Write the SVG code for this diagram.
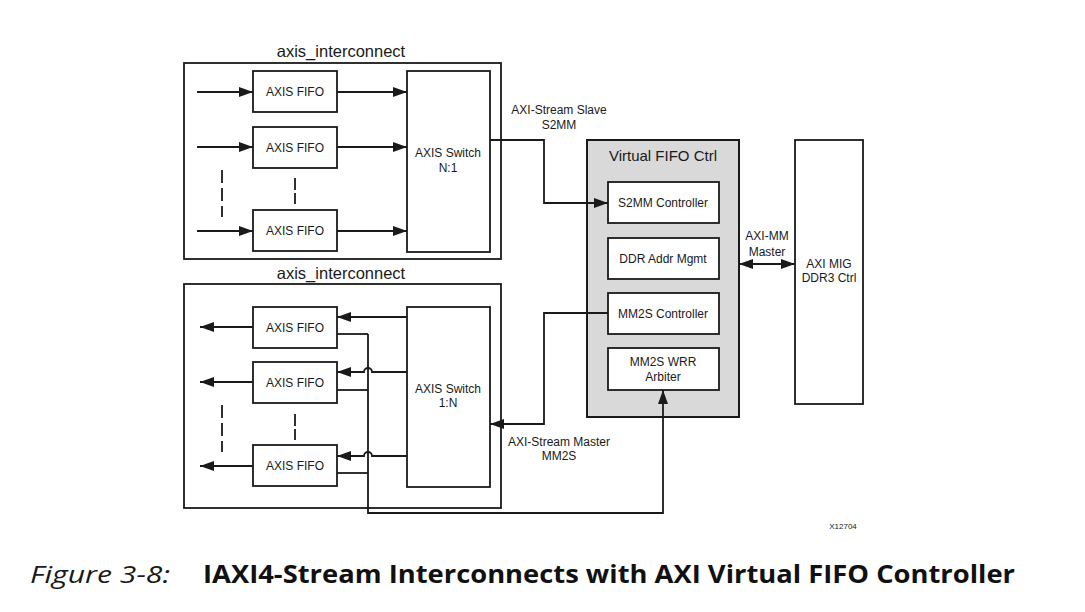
<svg xmlns="http://www.w3.org/2000/svg" width="1085" height="612" viewBox="0 0 1085 612">
<defs>
<marker id="arr" markerUnits="userSpaceOnUse" markerWidth="16" markerHeight="12" refX="14" refY="5" orient="auto-start-reverse">
<path d="M0,0 L14,5 L0,10 z" fill="#1a1a1a"/>
</marker>
</defs>
<style>
.box{fill:#fff;stroke:#1a1a1a;stroke-width:1.8}
.gray{fill:#d9d9d9;stroke:#1a1a1a;stroke-width:2}
.ln{fill:none;stroke:#1a1a1a;stroke-width:1.8}
.ar{fill:none;stroke:#1a1a1a;stroke-width:1.8;marker-end:url(#arr)}
.dash{fill:none;stroke:#1a1a1a;stroke-width:1.8}
.t{font-family:"Liberation Sans",Arial,sans-serif;font-size:12px;fill:#1a1a1a;text-anchor:middle}
.big{font-family:"Liberation Sans",Arial,sans-serif;font-size:16.5px;fill:#1a1a1a;text-anchor:middle}
</style>
<rect width="1085" height="612" fill="#fff"/>

<g id="top_interconnect">
<rect class="box" x="184" y="63" width="317" height="196"/>
<text class="big" x="341" y="57">axis_interconnect</text>
</g>
<g id="top_fifo1"><rect class="box" x="253" y="71" width="84" height="41"/><text class="t" x="295" y="96">AXIS FIFO</text></g>
<g id="top_fifo2"><rect class="box" x="253" y="127" width="84" height="41"/><text class="t" x="295" y="152">AXIS FIFO</text></g>
<g id="top_fifo3"><rect class="box" x="253" y="210" width="84" height="41"/><text class="t" x="295" y="235">AXIS FIFO</text></g>
<g id="top_switch"><rect class="box" x="407" y="71" width="83" height="181"/><text class="t" x="448" y="157">AXIS Switch</text><text class="t" x="448" y="172">N:1</text></g>

<g id="bot_interconnect">
<rect class="box" x="184" y="284" width="317" height="224"/>
<text class="big" x="341" y="279">axis_interconnect</text>
</g>
<g id="bot_fifo1"><rect class="box" x="253" y="307" width="84" height="41"/><text class="t" x="295" y="332">AXIS FIFO</text></g>
<g id="bot_fifo2"><rect class="box" x="253" y="362" width="84" height="41"/><text class="t" x="295" y="387">AXIS FIFO</text></g>
<g id="bot_fifo3"><rect class="box" x="253" y="445" width="84" height="41"/><text class="t" x="295" y="470">AXIS FIFO</text></g>
<g id="bot_switch"><rect class="box" x="407" y="307" width="83" height="180"/><text class="t" x="448" y="393">AXIS Switch</text><text class="t" x="448" y="407">1:N</text></g>

<g id="vfifo">
<rect class="gray" x="587" y="140" width="152" height="277"/>
<text class="t" x="663" y="161" style="font-size:15px">Virtual FIFO Ctrl</text>
</g>
<g id="s2mm_ctrl"><rect class="box" x="608" y="182" width="111" height="41"/><text class="t" x="663" y="207">S2MM Controller</text></g>
<g id="ddr_addr"><rect class="box" x="608" y="238" width="111" height="41"/><text class="t" x="663" y="263">DDR Addr Mgmt</text></g>
<g id="mm2s_ctrl"><rect class="box" x="608" y="293" width="111" height="41"/><text class="t" x="663" y="318">MM2S Controller</text></g>
<g id="mm2s_arb"><rect class="box" x="608" y="348" width="111" height="42"/><text class="t" x="663" y="366">MM2S WRR</text><text class="t" x="663" y="381">Arbiter</text></g>

<g id="axi_mig"><rect class="box" x="795" y="140" width="68" height="264"/><text class="t" x="829" y="268">AXI MIG</text><text class="t" x="829" y="282">DDR3 Ctrl</text></g>

<g id="connectors">
<line class="ar" x1="197" y1="92" x2="253" y2="92"/>
<line class="ar" x1="197" y1="147" x2="253" y2="147"/>
<line class="ar" x1="197" y1="231" x2="253" y2="231"/>
<line class="ar" x1="337" y1="92" x2="407" y2="92"/>
<line class="ar" x1="337" y1="147" x2="407" y2="147"/>
<line class="ar" x1="337" y1="231" x2="407" y2="231"/>
<line class="dash" x1="222" y1="170" x2="222" y2="217" stroke-dasharray="13,5"/>
<line class="dash" x1="295" y1="178" x2="295" y2="204" stroke-dasharray="12,3"/>
<path class="ar" d="M490,140 H544 V203 H608"/>
<text class="t" x="559" y="114">AXI-Stream Slave</text>
<text class="t" x="559" y="129">S2MM</text>
<line class="ln" x1="739" y1="264" x2="795" y2="264" style="marker-start:url(#arr);marker-end:url(#arr)"/>
<text class="t" x="767" y="240">AXI-MM</text>
<text class="t" x="767" y="256">Master</text>
<path class="ar" d="M608,313 H544 V424 H490"/>
<text class="t" x="559" y="446">AXI-Stream Master</text>
<text class="t" x="559" y="460">MM2S</text>
<line class="ar" x1="407" y1="317" x2="337" y2="317"/>
<path class="ar" d="M407,372 H372 A4,4 0 0 0 364,372 H337"/>
<path class="ar" d="M407,456 H372 A4,4 0 0 0 364,456 H337"/>
<line class="ar" x1="253" y1="327" x2="200" y2="327"/>
<line class="ar" x1="253" y1="382" x2="200" y2="382"/>
<line class="ar" x1="253" y1="466" x2="200" y2="466"/>
<line class="dash" x1="222" y1="405" x2="222" y2="452" stroke-dasharray="13,5"/>
<line class="dash" x1="295" y1="414" x2="295" y2="440" stroke-dasharray="12,3"/>
<path class="ln" d="M337,334 H368"/>
<path class="ln" d="M337,390 H368"/>
<path class="ln" d="M337,473 H368"/>
<path class="ar" d="M368,334 V513 H663 V390"/>
</g>

<text x="843" y="529" style="font-family:'Liberation Sans',Arial,sans-serif;font-size:8px;fill:#1a1a1a" text-anchor="middle">X12704</text>

<text x="30" y="583" style="font-family:'Open Sans',sans-serif;font-style:italic;font-size:24px;fill:#1a1a1a" textLength="140" lengthAdjust="spacingAndGlyphs">Figure 3-8:</text>
<text x="203" y="583" style="font-family:'Open Sans',sans-serif;font-weight:bold;font-size:25px;fill:#111" textLength="812" lengthAdjust="spacingAndGlyphs">IAXI4-Stream Interconnects with AXI Virtual FIFO Controller</text>
</svg>
